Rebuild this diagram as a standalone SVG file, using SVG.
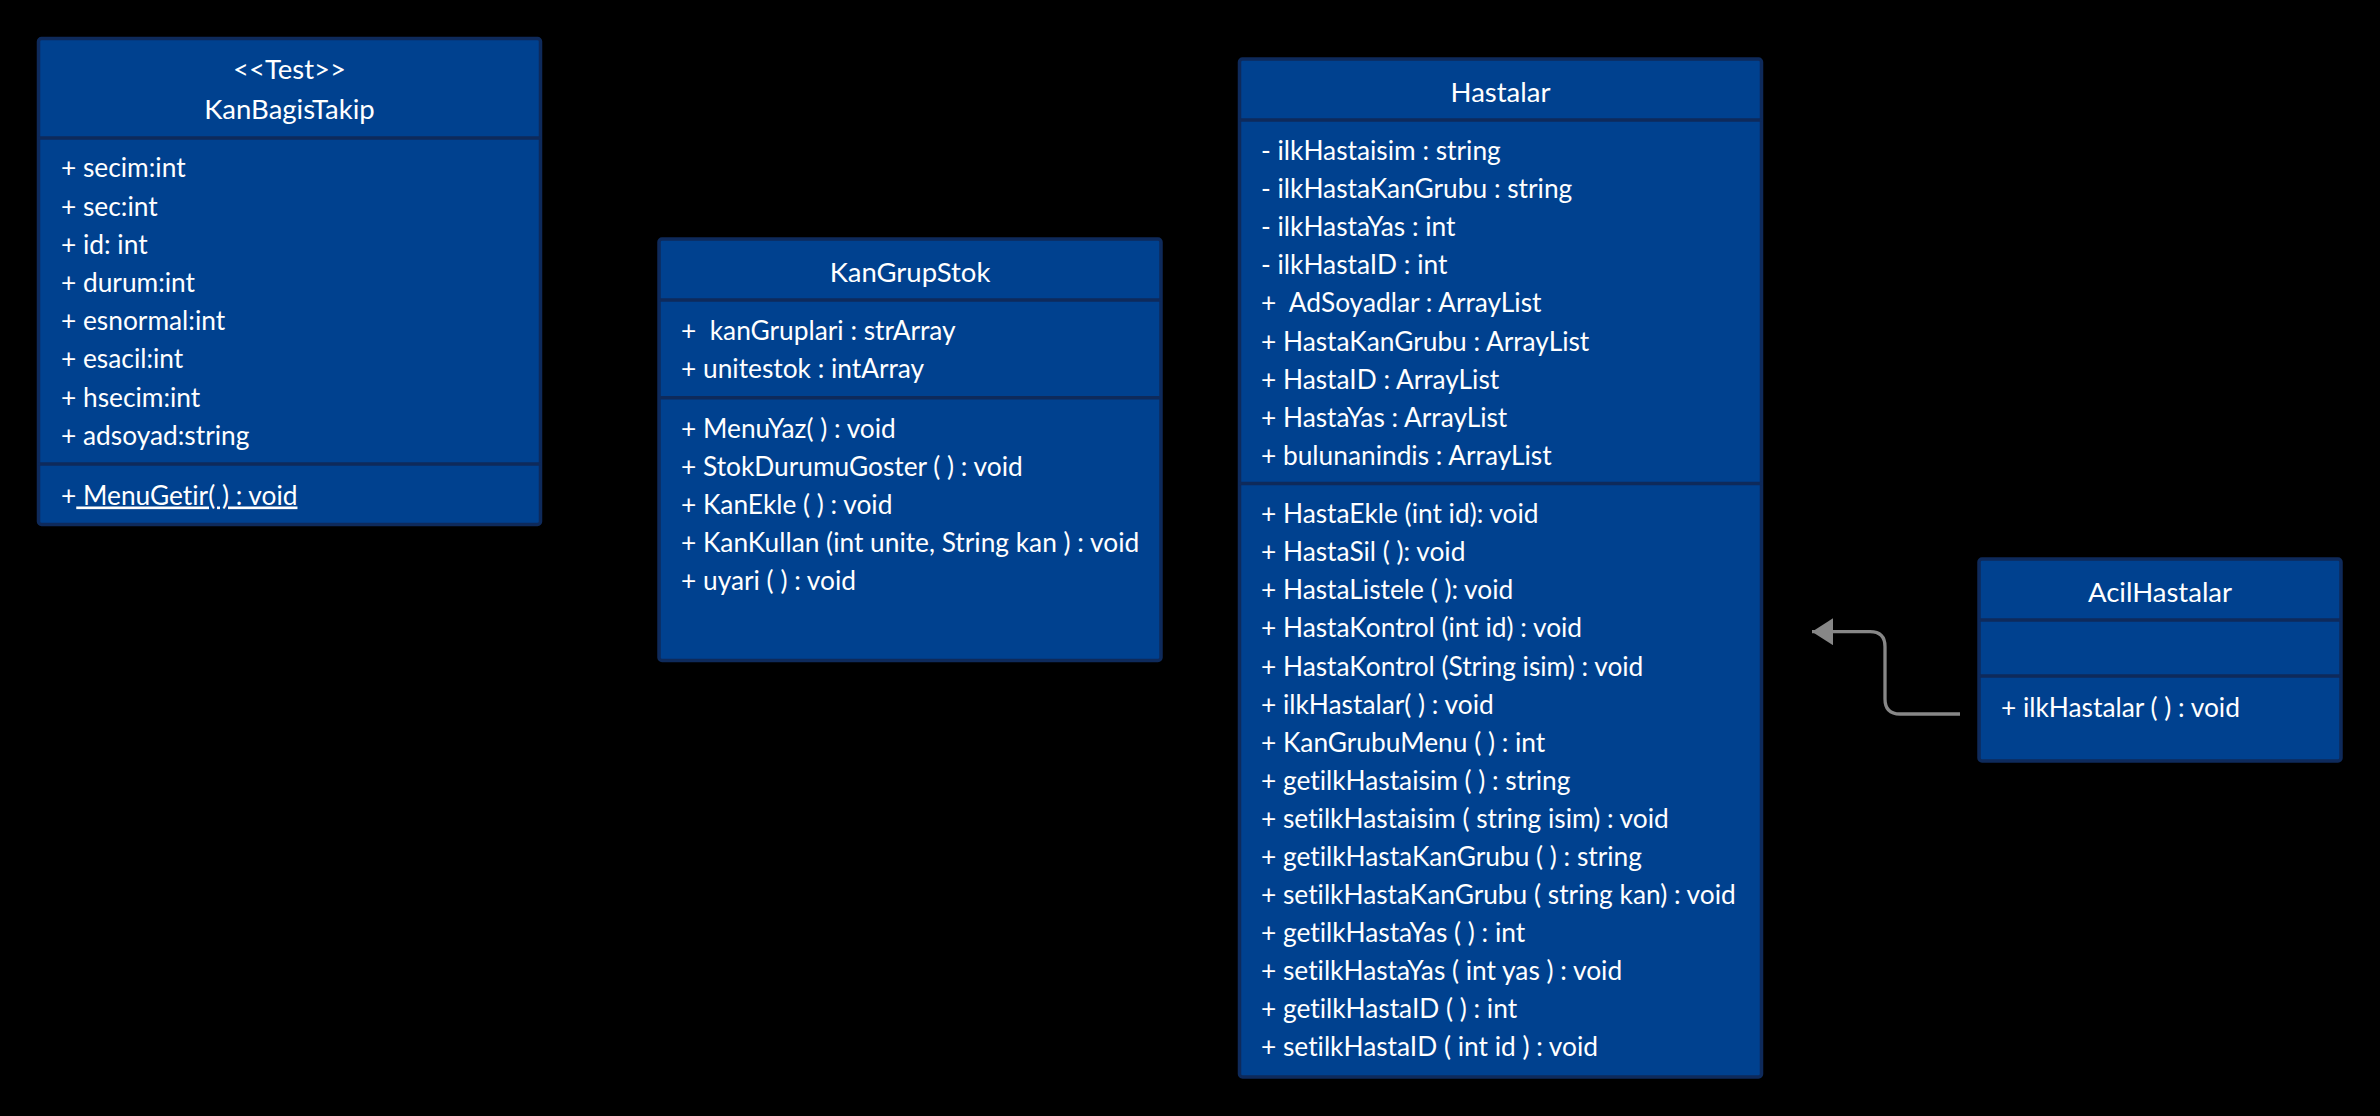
<svg xmlns="http://www.w3.org/2000/svg" width="2380" height="1116" viewBox="0 0 2380 1116">
  <style>
    .box { fill: #00418F; stroke: #0E2A5B; stroke-width: 3.5; }
    .sep { stroke: #0E2A5B; stroke-width: 3.5; fill: none; }
    .t { font-family: Lato, "Open Sans", "Liberation Sans", sans-serif; font-size: 26.3px; fill: #FFFFFF; font-variant-ligatures: none; }
    .title { text-anchor: middle; font-size: 27.5px; }
    .conn { fill: none; stroke: #878787; stroke-width: 3.3; }
  </style>
  <defs>
    <marker id="arrow" markerUnits="userSpaceOnUse" viewBox="0 0 21 27" markerWidth="21" markerHeight="27" refX="21" refY="13.5" orient="auto">
      <path d="M0,0 L21,13.5 L0,27 Z" fill="#878787"/>
    </marker>
  </defs>
  <rect width="2380" height="1116" fill="#000000"/>

  <g id="KanBagisTakip">
    <rect class="box" x="38.5" y="38.5" width="502" height="486" rx="3"/>
    <line class="sep" x1="38.5" y1="138" x2="540.5" y2="138"/>
    <line class="sep" x1="38.5" y1="464" x2="540.5" y2="464"/>
    <text class="t title" x="289.5" y="78.6">&lt;&lt;Test&gt;&gt;</text>
    <text class="t title" x="289.5" y="119">KanBagisTakip</text>
    <text class="t" x="61" y="177.3">+ secim:int</text>
    <text class="t" x="61" y="215.5">+ sec:int</text>
    <text class="t" x="61" y="253.7">+ id: int</text>
    <text class="t" x="61" y="291.9">+ durum:int</text>
    <text class="t" x="61" y="330.1">+ esnormal:int</text>
    <text class="t" x="61" y="368.3">+ esacil:int</text>
    <text class="t" x="61" y="406.5">+ hsecim:int</text>
    <text class="t" x="61" y="444.7">+ adsoyad:string</text>
    <text class="t" x="61" y="504.5" xml:space="preserve">+<tspan text-decoration="underline"> MenuGetir( ) : void</tspan></text>
  </g>

  <g id="KanGrupStok">
    <rect class="box" x="659" y="239" width="502" height="421.5" rx="3"/>
    <line class="sep" x1="659" y1="300" x2="1161" y2="300"/>
    <line class="sep" x1="659" y1="397.7" x2="1161" y2="397.7"/>
    <text class="t title" x="910" y="281.7">KanGrupStok</text>
    <text class="t" x="681" y="339.8" xml:space="preserve">+  kanGruplari : strArray</text>
    <text class="t" x="681" y="378">+ unitestok : intArray</text>
    <text class="t" x="681" y="437.6">+ MenuYaz( ) : void</text>
    <text class="t" x="681" y="475.8">+ StokDurumuGoster ( ) : void</text>
    <text class="t" x="681" y="514">+ KanEkle ( ) : void</text>
    <text class="t" x="681" y="552.2">+ KanKullan (int unite, String kan ) : void</text>
    <text class="t" x="681" y="590.4">+ uyari ( ) : void</text>
  </g>

  <g id="Hastalar">
    <rect class="box" x="1239.5" y="59" width="522" height="1018" rx="3"/>
    <line class="sep" x1="1239.5" y1="120" x2="1761.5" y2="120"/>
    <line class="sep" x1="1239.5" y1="483.5" x2="1761.5" y2="483.5"/>
    <text class="t title" x="1500.5" y="101.7">Hastalar</text>
    <text class="t" x="1261" y="159.6">- ilkHastaisim : string</text>
    <text class="t" x="1261" y="197.8">- ilkHastaKanGrubu : string</text>
    <text class="t" x="1261" y="236">- ilkHastaYas : int</text>
    <text class="t" x="1261" y="274.2">- ilkHastaID : int</text>
    <text class="t" x="1261" y="312.4" xml:space="preserve">+  AdSoyadlar : ArrayList</text>
    <text class="t" x="1261" y="350.6">+ HastaKanGrubu : ArrayList</text>
    <text class="t" x="1261" y="388.8">+ HastaID : ArrayList</text>
    <text class="t" x="1261" y="427">+ HastaYas : ArrayList</text>
    <text class="t" x="1261" y="465.2">+ bulunanindis : ArrayList</text>
    <text class="t" x="1261" y="523.3">+ HastaEkle (int id): void</text>
    <text class="t" x="1261" y="561.3">+ HastaSil ( ): void</text>
    <text class="t" x="1261" y="599.4">+ HastaListele ( ): void</text>
    <text class="t" x="1261" y="637.4">+ HastaKontrol (int id) : void</text>
    <text class="t" x="1261" y="675.5">+ HastaKontrol (String isim) : void</text>
    <text class="t" x="1261" y="713.5">+ ilkHastalar( ) : void</text>
    <text class="t" x="1261" y="751.6">+ KanGrubuMenu ( ) : int</text>
    <text class="t" x="1261" y="789.6">+ getilkHastaisim ( ) : string</text>
    <text class="t" x="1261" y="827.7">+ setilkHastaisim ( string isim) : void</text>
    <text class="t" x="1261" y="865.7">+ getilkHastaKanGrubu ( ) : string</text>
    <text class="t" x="1261" y="903.8">+ setilkHastaKanGrubu ( string kan) : void</text>
    <text class="t" x="1261" y="941.8">+ getilkHastaYas ( ) : int</text>
    <text class="t" x="1261" y="979.9">+ setilkHastaYas ( int yas ) : void</text>
    <text class="t" x="1261" y="1017.9">+ getilkHastaID ( ) : int</text>
    <text class="t" x="1261" y="1056">+ setilkHastaID ( int id ) : void</text>
  </g>

  <g id="AcilHastalar">
    <rect class="box" x="1979" y="559" width="362" height="202" rx="3"/>
    <line class="sep" x1="1979" y1="620" x2="2341" y2="620"/>
    <line class="sep" x1="1979" y1="676" x2="2341" y2="676"/>
    <text class="t title" x="2160" y="601.7">AcilHastalar</text>
    <text class="t" x="2001" y="717">+ ilkHastalar ( ) : void</text>
  </g>

  <g id="connectors">
    <path class="conn" d="M1960,714 H1900 Q1885,714 1885,699 V646.7 Q1885,631.7 1870,631.7 H1812" marker-end="url(#arrow)"/>
  </g>
</svg>
